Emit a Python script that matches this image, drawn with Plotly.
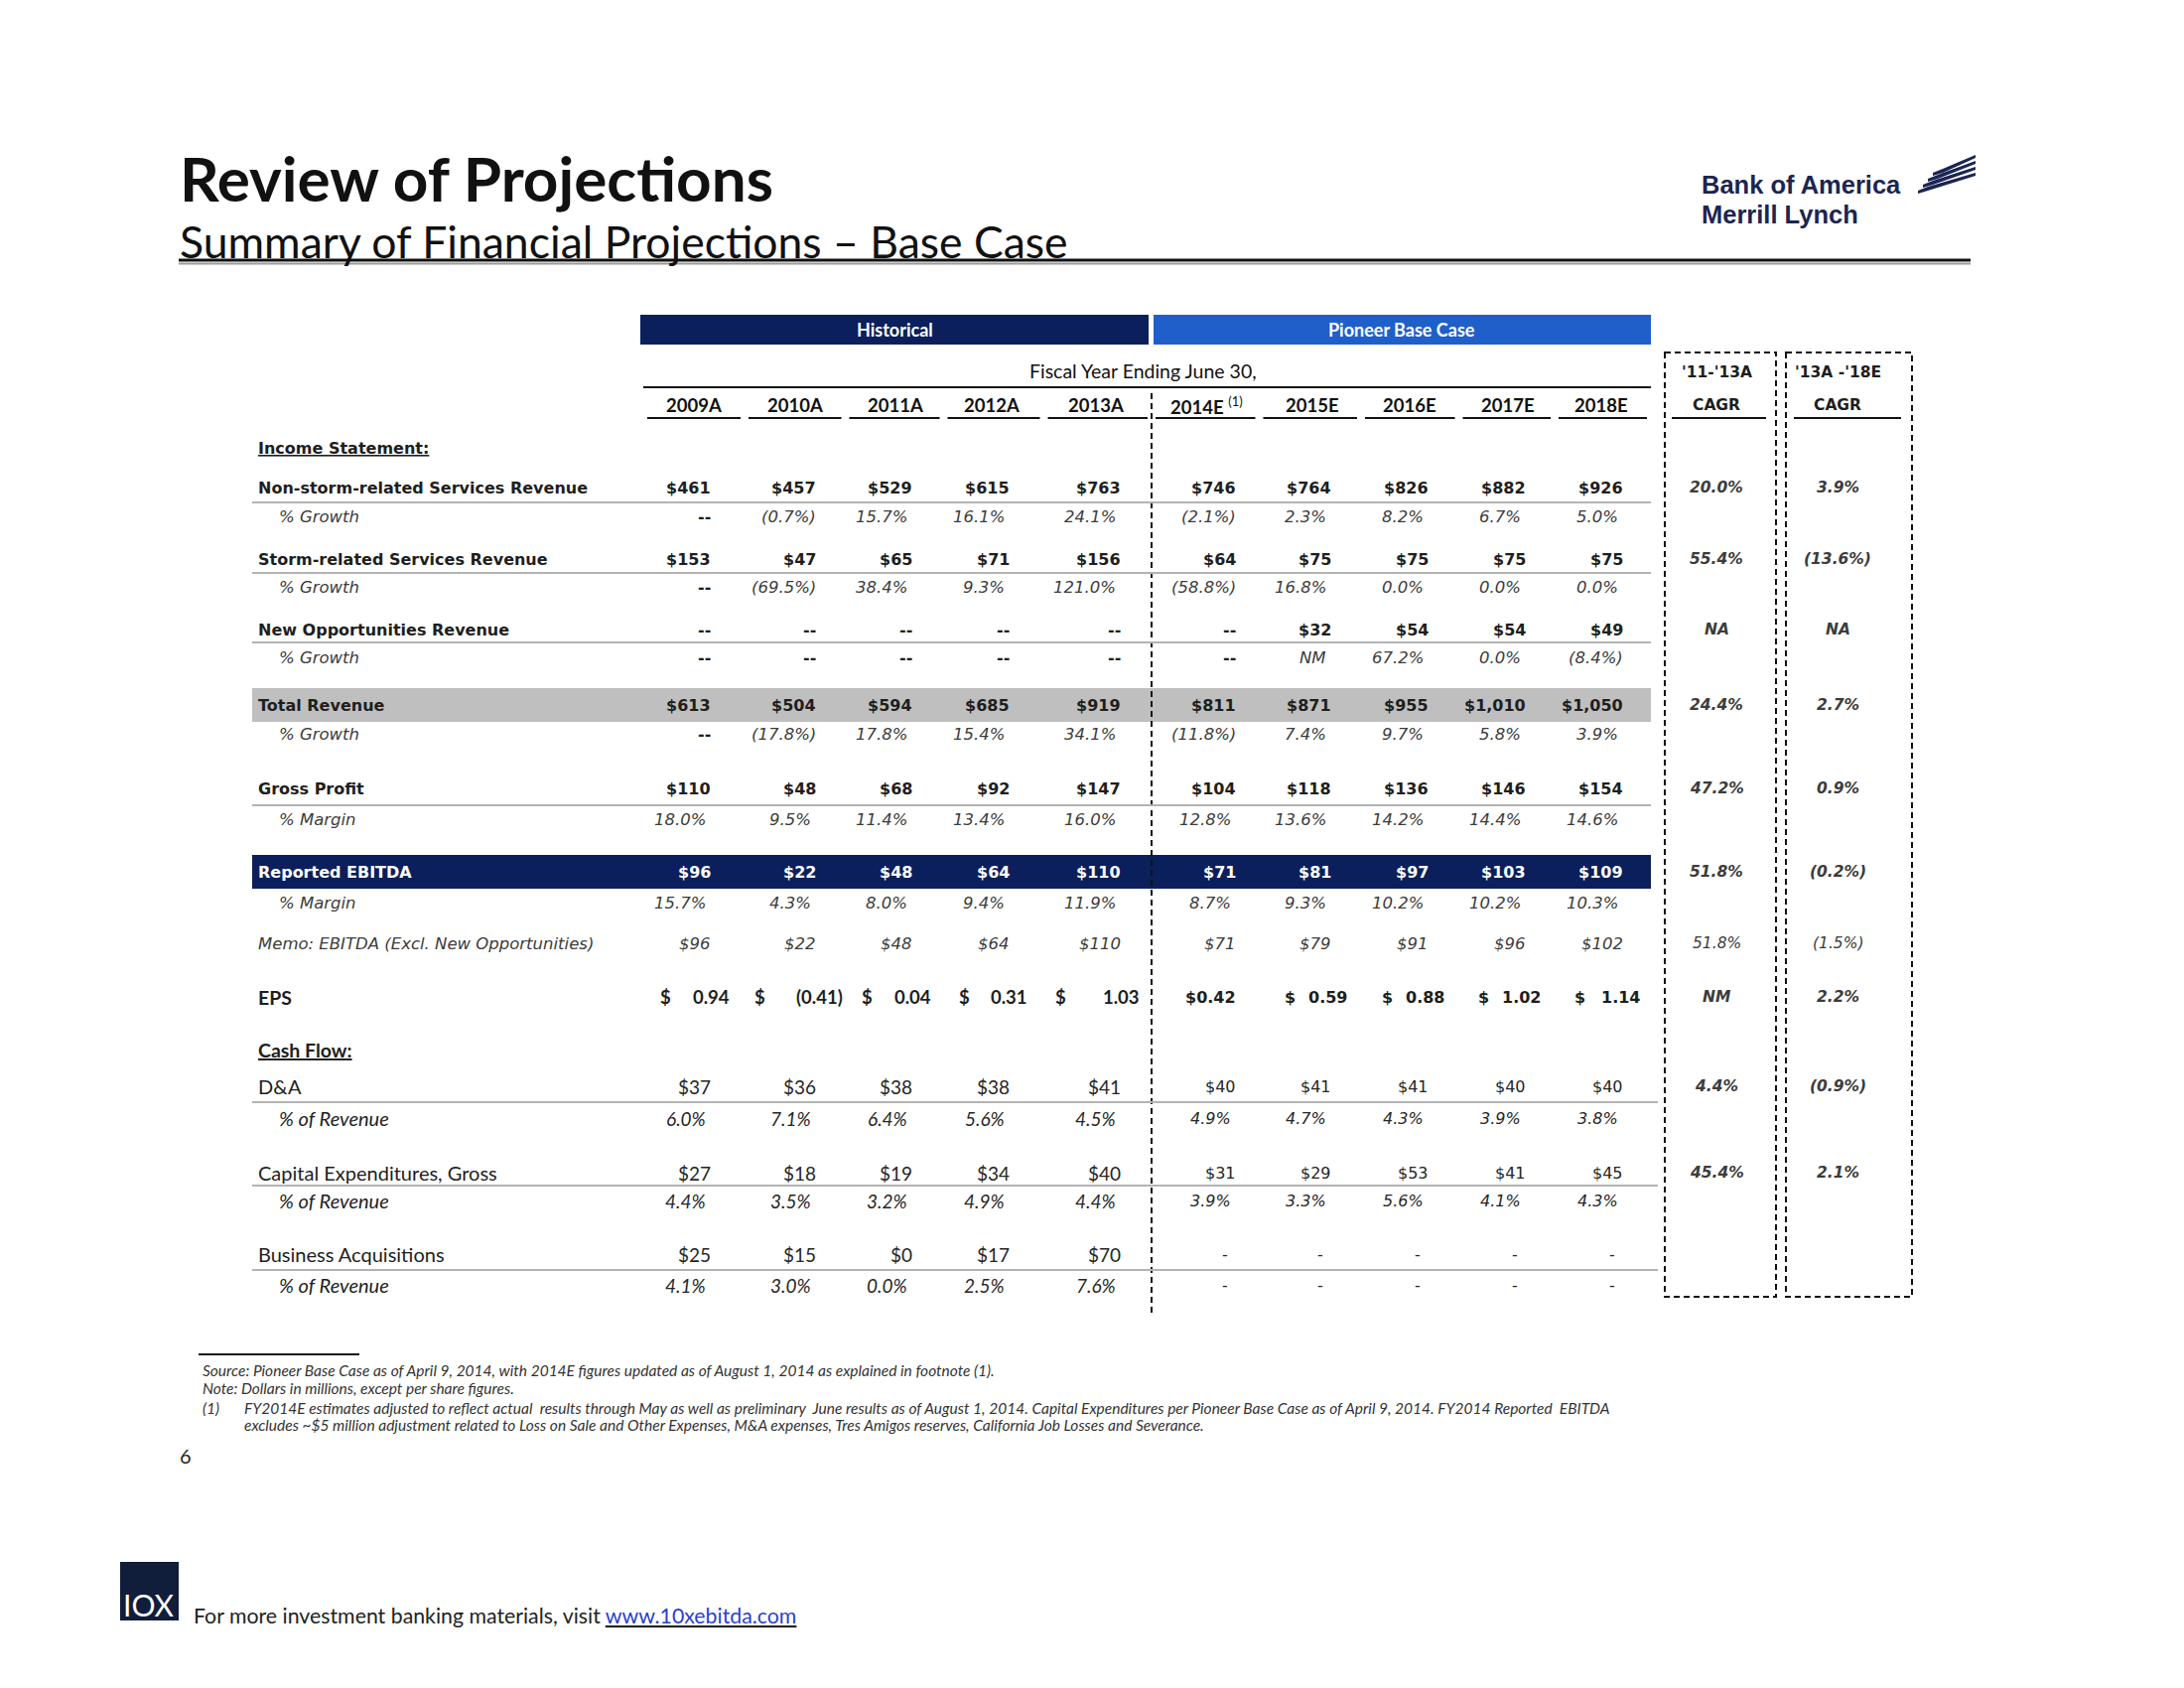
import plotly.graph_objects as go

# ---------------- data ----------------
years = ["2009A", "2010A", "2011A", "2012A", "2013A", "2014E", "2015E", "2016E", "2017E", "2018E"]

nonstorm_rev = ["$461", "$457", "$529", "$615", "$763", "$746", "$764", "$826", "$882", "$926"]
nonstorm_growth = ["--", "(0.7%)", "15.7%", "16.1%", "24.1%", "(2.1%)", "2.3%", "8.2%", "6.7%", "5.0%"]
storm_rev = ["$153", "$47", "$65", "$71", "$156", "$64", "$75", "$75", "$75", "$75"]
storm_growth = ["--", "(69.5%)", "38.4%", "9.3%", "121.0%", "(58.8%)", "16.8%", "0.0%", "0.0%", "0.0%"]
newopp_rev = ["--", "--", "--", "--", "--", "--", "$32", "$54", "$54", "$49"]
newopp_growth = ["--", "--", "--", "--", "--", "--", "NM", "67.2%", "0.0%", "(8.4%)"]
total_rev = ["$613", "$504", "$594", "$685", "$919", "$811", "$871", "$955", "$1,010", "$1,050"]
total_growth = ["--", "(17.8%)", "17.8%", "15.4%", "34.1%", "(11.8%)", "7.4%", "9.7%", "5.8%", "3.9%"]
gross_profit = ["$110", "$48", "$68", "$92", "$147", "$104", "$118", "$136", "$146", "$154"]
gross_margin = ["18.0%", "9.5%", "11.4%", "13.4%", "16.0%", "12.8%", "13.6%", "14.2%", "14.4%", "14.6%"]
ebitda = ["$96", "$22", "$48", "$64", "$110", "$71", "$81", "$97", "$103", "$109"]
ebitda_margin = ["15.7%", "4.3%", "8.0%", "9.4%", "11.9%", "8.7%", "9.3%", "10.2%", "10.2%", "10.3%"]
memo_ebitda = ["$96", "$22", "$48", "$64", "$110", "$71", "$79", "$91", "$96", "$102"]
eps = [0.94, -0.41, 0.04, 0.31, 1.03, 0.42, 0.59, 0.88, 1.02, 1.14]
da = ["$37", "$36", "$38", "$38", "$41", "$40", "$41", "$41", "$40", "$40"]
da_pct = ["6.0%", "7.1%", "6.4%", "5.6%", "4.5%", "4.9%", "4.7%", "4.3%", "3.9%", "3.8%"]
capex = ["$27", "$18", "$19", "$34", "$40", "$31", "$29", "$53", "$41", "$45"]
capex_pct = ["4.4%", "3.5%", "3.2%", "4.9%", "4.4%", "3.9%", "3.3%", "5.6%", "4.1%", "4.3%"]
acq = ["$25", "$15", "$0", "$17", "$70", "-", "-", "-", "-", "-"]
acq_pct = ["4.1%", "3.0%", "0.0%", "2.5%", "7.6%", "-", "-", "-", "-", "-"]
cagr_11_13 = ["20.0%", "55.4%", "NA", "24.4%", "47.2%", "51.8%", "51.8%", "NM", "4.4%", "45.4%"]
cagr_13_18 = ["3.9%", "(13.6%)", "NA", "2.7%", "0.9%", "(0.2%)", "(1.5%)", "2.2%", "(0.9%)", "2.1%"]

# ---------------- layout constants ----------------
W, H = 2200, 1700
VER = "DejaVu Sans"
CAL = "Lato"
DARK = "#1e1e1e"
GREY = "#3c3c3c"
NAVY = "#0b1f5c"
BLUE = "#1f5fc9"

COL_R = [717, 823, 920, 1018, 1130, 1246, 1342, 1440, 1538, 1636]
YEAR_C = [699, 801, 902, 999, 1104, 1215, 1322, 1420, 1519, 1613]
TBL_L, TBL_R = 254, 1663
SEP_X = 1160
LABEL_X, SUB_X = 259, 280
CAGR_C = [1729, 1851]

shapes = []
annotations = []


def txt(x, y, s, size, color=DARK, family=VER, xanchor="left", yanchor="middle"):
    annotations.append(dict(x=x, y=y, xref="x", yref="y", text=s, showarrow=False,
                            xanchor=xanchor, yanchor=yanchor, borderpad=0,
                            font=dict(size=size, color=color, family=family)))


def hline(x0, x1, y, color="#b3b3b3", width=2, dash=None):
    ln = dict(color=color, width=width)
    if dash:
        ln["dash"] = dash
    shapes.append(dict(type="line", xref="x", yref="y", x0=x0, x1=x1, y0=y, y1=y, line=ln))


def vline(x, y0, y1, color="black", width=2, dash=None):
    ln = dict(color=color, width=width)
    if dash:
        ln["dash"] = dash
    shapes.append(dict(type="line", xref="x", yref="y", x0=x, x1=x, y0=y0, y1=y1, line=ln))


def rect(x0, y0, x1, y1, fill, line_color=None, width=0, dash=None):
    ln = dict(width=width, color=line_color or fill)
    if dash:
        ln["dash"] = dash
    shapes.append(dict(type="rect", xref="x", yref="y", x0=x0, x1=x1, y0=y0, y1=y1,
                       fillcolor=fill, line=ln, layer="below"))


def cell_x(i, s, pct):
    xr = COL_R[i]
    if s == "-":
        return xr - 12, "center"
    if pct and not s.endswith(")") and s != "--":
        return xr - 5, "right"
    return xr, "right"


# ---------------- title ----------------
txt(180, 179, "<b>Review of Projections</b>", 62, "#111111", CAL)
txt(180, 242, "Summary of Financial Projections \u2013 Base Case", 44.5, "#111111", CAL)
hline(180, 1985, 262, "#111111", 3)
hline(180, 1985, 265.5, "#9a9a9a", 2)

# logo
txt(1713, 186, "<b>Bank of America</b>", 25.5, "#1b2552", "Liberation Sans")
txt(1713, 216, "<b>Merrill Lynch</b>", 25.5, "#1b2552", "Liberation Sans")
for k in range(4):
    y0 = 192 - 6 * k
    x0 = 1932 + 5 * k
    p = f"M {x0} {y0} L {x0 + 10} {y0 - 4} L 1990 {y0 - 18} L 1990 {y0 - 15} L {x0 + 10} {y0} L {x0} {y0 + 3} Z"
    shapes.append(dict(type="path", path=p, xref="x", yref="y", fillcolor="#1b2552", line=dict(width=0)))

# ---------------- header bands ----------------
rect(645, 317, 1157, 347, NAVY)
rect(1162, 317, 1663, 347, BLUE)
txt(901, 332, "<b>Historical</b>", 18, "white", CAL, "center")
txt(1412, 332, "<b>Pioneer Base Case</b>", 18, "white", CAL, "center")
txt(1151, 373, "Fiscal Year Ending June 30,", 19.5, "#111111", CAL, "center")
hline(648, TBL_R, 390, "#111111", 2)

bounds = [648] + [(YEAR_C[i] + YEAR_C[i + 1]) / 2 for i in range(len(YEAR_C) - 1)] + [TBL_R]
bounds[5] = SEP_X
for i, yr in enumerate(years):
    label = f"<b>{yr}</b>" + (" <sup>(1)</sup>" if yr == "2014E" else "")
    txt(YEAR_C[i], 408, label, 18.5, "#111111", CAL, "center")
    hline(bounds[i] + 4, bounds[i + 1] - 4, 421, "#111111", 2)

vline(SEP_X, 396, 1326, "#111111", 2, "6px,4px")

# ---------------- upper table ----------------
txt(LABEL_X, 451, "<b><u>Income Statement:</u></b>", 16, DARK)

upper_rows = [
    ("<b>Non-storm-related Services Revenue</b>", 491, nonstorm_rev, False, "bold", 506),
    ("<i>% Growth</i>", 520, nonstorm_growth, True, "ital", None),
    ("<b>Storm-related Services Revenue</b>", 563, storm_rev, False, "bold", 577),
    ("<i>% Growth</i>", 591, storm_growth, True, "ital", None),
    ("<b>New Opportunities Revenue</b>", 634, newopp_rev, False, "bold", 647),
    ("<i>% Growth</i>", 662, newopp_growth, True, "ital", None),
    ("<b>Total Revenue</b>", 710, total_rev, False, "bold", None),
    ("<i>% Growth</i>", 739, total_growth, True, "ital", None),
    ("<b>Gross Profit</b>", 794, gross_profit, False, "bold", 811),
    ("<i>% Margin</i>", 825, gross_margin, True, "ital", None),
    ("<b>Reported EBITDA</b>", 878, ebitda, False, "white", None),
    ("<i>% Margin</i>", 909, ebitda_margin, True, "ital", None),
    ("<i>Memo: EBITDA (Excl. New Opportunities)</i>", 950, memo_ebitda, False, "ital", None),
]

rect(TBL_L, 693, TBL_R, 727, "#bfbfbf")
rect(TBL_L, 861, TBL_R, 895, NAVY)

for label, y, vals, is_pct, style, line_y in upper_rows:
    lx = SUB_X if label.startswith("<i>%") else LABEL_X
    lcolor = "white" if style == "white" else (GREY if style == "ital" else DARK)
    txt(lx, y, label, 16.5 if label.startswith("<i>") else 16, lcolor)
    for i, v in enumerate(vals):
        x, xa = cell_x(i, v, is_pct)
        size = 16
        if style == "bold":
            s, c = f"<b>{v}</b>", DARK
        elif style == "white":
            s, c = f"<b>{v}</b>", "white"
        else:
            if v == "--":
                s, c = f"<b>{v}</b>", DARK
            else:
                s, c, size = f"<i>{v}</i>", GREY, 16.5
        txt(x, y, s, size, c, VER, xa)
    if line_y:
        hline(TBL_L, TBL_R, line_y)

# ---------------- EPS ----------------
Y_EPS = 1004
txt(LABEL_X, Y_EPS, "<b>EPS</b>", 19.5, DARK, CAL)
EPS_DOLLAR_X = [664, 759, 867, 965, 1062, None, 1293, 1391, 1488, 1585]
EPS_NUM_R = [736, 850, 939, 1036, 1149, 1246, 1358, 1456, 1553, 1653]


def fmt_eps(v):
    return f"({abs(v):.2f})" if v < 0 else f"{v:.2f}"


for i, v in enumerate(eps):
    if i < 5:
        txt(EPS_DOLLAR_X[i], Y_EPS, "<b>$</b>", 18.5, DARK, CAL, "left")
        txt(EPS_NUM_R[i], Y_EPS, f"<b>{fmt_eps(v)}</b>", 18.5, DARK, CAL, "right")
    elif EPS_DOLLAR_X[i] is None:
        txt(EPS_NUM_R[i], Y_EPS, f"<b>${fmt_eps(v)}</b>", 16, DARK, VER, "right")
    else:
        txt(EPS_DOLLAR_X[i], Y_EPS, "<b>$</b>", 16, DARK, VER, "left")
        txt(EPS_NUM_R[i], Y_EPS, f"<b>{fmt_eps(v)}</b>", 16, DARK, VER, "right")

# ---------------- cash flow ----------------
txt(LABEL_X, 1057, "<b><u>Cash Flow:</u></b>", 19.5, DARK, CAL)
lower_rows = [
    ("D&A", 1094, da, False, 1110),
    ("<i>% of Revenue</i>", 1126, da_pct, True, None),
    ("Capital Expenditures, Gross", 1181, capex, False, 1194),
    ("<i>% of Revenue</i>", 1209, capex_pct, True, None),
    ("Business Acquisitions", 1263, acq, False, 1279),
    ("<i>% of Revenue</i>", 1294, acq_pct, True, None),
]
for label, y, vals, is_pct, line_y in lower_rows:
    lx = SUB_X if label.startswith("<i>") else LABEL_X
    txt(lx, y, label, 20, DARK, CAL)
    for i, v in enumerate(vals):
        x, xa = cell_x(i, v, is_pct)
        s = f"<i>{v}</i>" if (is_pct and v != "-") else v
        if i < 5:
            txt(x, y, s, 19, "#262626", CAL, xa)
        else:
            txt(x, y, s, 16, "#262626", VER, xa)
    if line_y:
        hline(TBL_L, 1670, line_y)

# ---------------- CAGR boxes ----------------
rect(1677, 355, 1789, 1306, "rgba(0,0,0,0)", "#111111", 2, "6px,4px")
rect(1799, 355, 1926, 1306, "rgba(0,0,0,0)", "#111111", 2, "6px,4px")
txt(CAGR_C[0], 375, "<b>'11-'13A</b>", 15.5, DARK, VER, "center")
txt(CAGR_C[0], 408, "<b>CAGR</b>", 15.5, DARK, VER, "center")
txt(CAGR_C[1], 375, "<b>'13A -'18E</b>", 15.5, DARK, VER, "center")
txt(CAGR_C[1], 408, "<b>CAGR</b>", 15.5, DARK, VER, "center")
hline(1684, 1779, 421, "#111111", 2)
hline(1807, 1915, 421, "#111111", 2)

CAGR_Y = [491, 563, 634, 710, 794, 878, 950, 1004, 1094, 1181]
for j, (a, b) in enumerate(zip(cagr_11_13, cagr_13_18)):
    w = "" if j == 6 else "<b>"
    we = "" if j == 6 else "</b>"
    txt(CAGR_C[0], CAGR_Y[j], f"{w}<i>{a}</i>{we}", 15.5, GREY, VER, "center")
    txt(CAGR_C[1], CAGR_Y[j], f"{w}<i>{b}</i>{we}", 15.5, GREY, VER, "center")

# ---------------- footnotes ----------------
hline(200, 362, 1364, "#111111", 2)
FN = "#333333"
FS = 15.5
txt(203, 1380, "<i>Source: Pioneer Base Case as of April 9, 2014, with 2014E figures updated as of August 1, 2014 as explained in footnote (1).</i>", FS, FN, CAL)
txt(203, 1398, "<i>Note: Dollars in millions, except per share figures.</i>", FS, FN, CAL)
txt(203, 1418, "<i>(1)</i>", FS, FN, CAL)
txt(245, 1418, "<i>FY2014E estimates adjusted to reflect actual  results through May as well as preliminary  June results as of August 1, 2014. Capital Expenditures per Pioneer Base Case as of April 9, 2014. FY2014 Reported  EBITDA</i>", FS, FN, CAL)
txt(245, 1435, "<i>excludes ~$5 million adjustment related to Loss on Sale and Other Expenses, M&A expenses, Tres Amigos reserves, California Job Losses and Severance.</i>", FS, FN, CAL)
txt(180, 1466, "6", 20, "#222222", CAL)

# ---------------- bottom banner ----------------
rect(121, 1573, 180, 1632, "#101d3b")
txt(150, 1616, "IOX", 30, "white", CAL, "center")
txt(194, 1627, "For more investment banking materials, visit <u><span style='color:#2a3fd0'>www.10xebitda.com</span></u>", 21.3, "#222222", CAL)

fig = go.Figure()
fig.update_layout(
    width=W, height=H, margin=dict(l=0, r=0, t=0, b=0),
    paper_bgcolor="white", plot_bgcolor="white", showlegend=False,
    xaxis=dict(range=[0, W], visible=False, fixedrange=True),
    yaxis=dict(range=[H, 0], visible=False, fixedrange=True),
    shapes=shapes, annotations=annotations,
)
fig.write_html("out.html", config={"displayModeBar": False},
               post_script="document.body.style.margin='0';document.body.style.overflow='hidden';")
